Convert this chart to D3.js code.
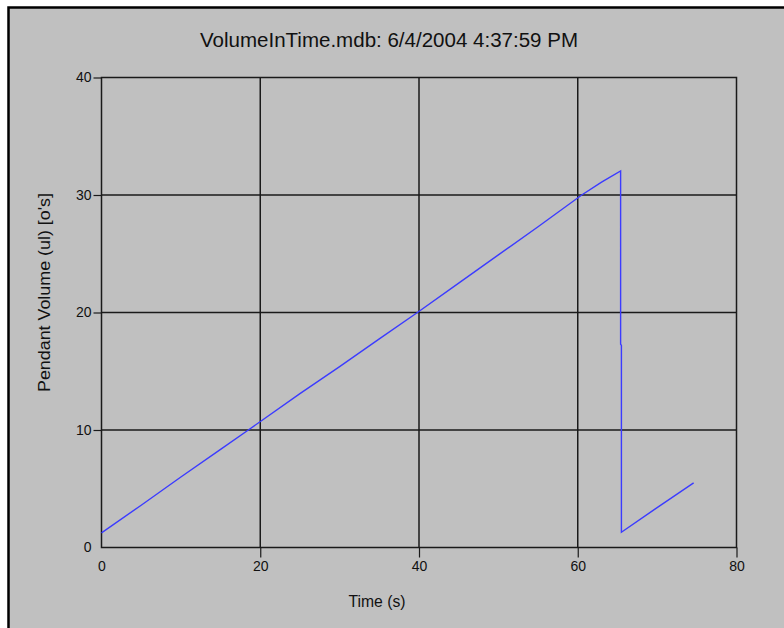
<!DOCTYPE html>
<html>
<head>
<meta charset="utf-8">
<script src="https://cdn.jsdelivr.net/npm/d3@7"></script>
<style>
  html, body { margin: 0; padding: 0; background: #fff; }
  svg { display: block; }
  text { font-family: "Liberation Sans", Arial, sans-serif; fill: #111; }
</style>
</head>
<body>
<svg id="chart"></svg>
<script>
// data
const timeS = [0, 5, 10, 15, 18.5, 25, 30, 35, 39.8, 45, 50, 55, 60.5, 63, 65.4, 65.4, 65.5, 65.5, 70, 74.6];
const volume = [1.25, 3.6, 6.0, 8.35, 10.0, 13.1, 15.4, 17.75, 20.0, 22.5, 24.9, 27.3, 30.0, 31.1, 32.05, 17.3, 17.2, 1.3, 3.4, 5.5];
const xTicks = [0, 20, 40, 60, 80];
const yTicks = [0, 10, 20, 30, 40];

const titleText = "VolumeInTime.mdb: 6/4/2004 4:37:59 PM";
const xLabel = "Time (s)";
const yLabel = "Pendant Volume (ul) [o's]";

const width = 784, height = 628;
const plot = { left: 101.5, right: 736.5, top: 77.5, bottom: 547.5 };

const svg = d3.select("#chart").attr("width", width).attr("height", height);

// window background + black frame on left/top
svg.append("rect").attr("x", 0).attr("y", 0).attr("width", width).attr("height", height).attr("fill", "#fff");
svg.append("rect").attr("x", 8).attr("y", 7).attr("width", width - 8).attr("height", height - 7).attr("fill", "#c0c0c0");
svg.append("path")
  .attr("d", `M8.5,${height} V7.5 H${width}`)
  .attr("fill", "none").attr("stroke", "#000").attr("stroke-width", 2.5);

const x = d3.scaleLinear().domain([0, 80]).range([plot.left, plot.right]);
const y = d3.scaleLinear().domain([0, 40]).range([plot.bottom, plot.top]);

// grid lines
const grid = svg.append("g").attr("stroke", "#1a1a1a").attr("stroke-width", 1.5);
grid.selectAll("line.vx")
  .data(xTicks.slice(1, -1)).enter().append("line")
  .attr("x1", d => x(d)).attr("x2", d => x(d))
  .attr("y1", plot.top).attr("y2", plot.bottom);
grid.selectAll("line.hy")
  .data(yTicks.slice(1, -1)).enter().append("line")
  .attr("x1", plot.left).attr("x2", plot.right)
  .attr("y1", d => y(d)).attr("y2", d => y(d));

// plot frame
svg.append("rect")
  .attr("x", plot.left).attr("y", plot.top)
  .attr("width", plot.right - plot.left).attr("height", plot.bottom - plot.top)
  .attr("fill", "none").attr("stroke", "#1a1a1a").attr("stroke-width", 1.5);

// axes (ticks outside, no tick at 0)
const xAxis = svg.append("g").attr("transform", `translate(0,${plot.bottom})`)
  .call(d3.axisBottom(x).tickValues(xTicks).tickSize(10).tickPadding(4).tickFormat(d3.format("d")));
const yAxis = svg.append("g").attr("transform", `translate(${plot.left},0)`)
  .call(d3.axisLeft(y).tickValues(yTicks).tickSize(8).tickPadding(2).tickFormat(d3.format("d")));
[xAxis, yAxis].forEach(a => {
  a.select(".domain").remove();
  a.selectAll(".tick line").attr("stroke", "#1a1a1a").attr("stroke-width", 1.2);
  a.selectAll(".tick").filter(d => d === 0).select("line").remove();
  a.selectAll(".tick text").attr("fill", "#111")
    .style("font-family", '"Liberation Sans", Arial, sans-serif').style("font-size", "14px");
});
yAxis.selectAll(".tick").filter(d => d === 0).select("text").attr("x", -10);

// data line
const pts = timeS.map((t, i) => [t, volume[i]]);
svg.append("path")
  .datum(pts)
  .attr("d", d3.line().x(d => x(d[0])).y(d => y(d[1])))
  .attr("fill", "none").attr("stroke", "#3b3bff").attr("stroke-width", 1.4);

// titles
svg.append("text").attr("x", 389).attr("y", 47).attr("text-anchor", "middle")
  .attr("textLength", 378).attr("lengthAdjust", "spacingAndGlyphs")
  .style("font-size", "20px").text(titleText);
svg.append("text").attr("x", 377).attr("y", 607).attr("text-anchor", "middle")
  .attr("textLength", 57).attr("lengthAdjust", "spacingAndGlyphs")
  .style("font-size", "16px").text(xLabel);
svg.append("text").attr("transform", `translate(50,292.5) rotate(-90)`).attr("text-anchor", "middle")
  .attr("textLength", 199).attr("lengthAdjust", "spacingAndGlyphs")
  .style("font-size", "16px").text(yLabel);
</script>
</body>
</html>
